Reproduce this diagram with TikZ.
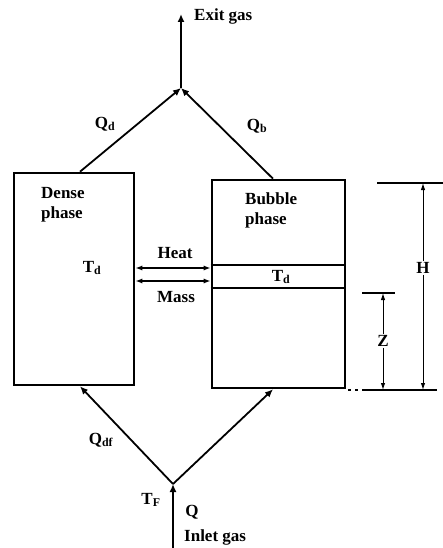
\documentclass[tikz,border=0pt]{standalone}
\usepackage{fontspec}
\setmainfont{Liberation Serif}
\usepackage{tikz}
\usetikzlibrary{arrows.meta,calc,positioning}
\tikzset{
  fase/.style={draw,line width=2.6pt,minimum width=120pt,inner sep=0pt},
  flujo/.style={line width=1.8pt,-{Latex[length=8pt,width=7pt]}},
  cambio/.style={line width=1.3pt,{Latex[length=7pt,width=5pt]}-{Latex[length=7pt,width=5pt]}},
  cota/.style={line width=1pt,-{Latex[length=7pt,width=4.5pt]}},
  etiq/.style={font=\bfseries\fontsize{17}{20}\selectfont,inner sep=1pt}
}
\begin{document}
\begin{tikzpicture}[x=1pt,y=-1pt]
\useasboundingbox (0,0) rectangle (443,548);
% the two phases
\node[fase,minimum width=120pt,minimum height=212pt] (dense) at (74,279) {};
\node[fase,minimum width=133pt,minimum height=208pt] (bubble) at (278.5,284) {};
\node[etiq,align=left,anchor=north west] (dtxt) at (40,186) {Dense\\phase};
\node[etiq,align=left,anchor=north west] (btxt) at (244,192) {Bubble\\phase};
% gas in and out
\coordinate (top) at (181,88);
\coordinate (exit) at (181,14);
\coordinate (bot) at (173,484);
\coordinate (inlet) at (173,548);
\draw[flujo] (dense.north -| 80,0) -- (top);
\draw[flujo] (bubble.north -| 273,0) -- (top);
\draw[flujo] (top) -- (exit);
\draw[flujo] (bot) -- (dense.south -| 80,0);
\draw[flujo] (bot) -- (bubble.south -| 273,0);
\draw[flujo] (inlet) -- (bot);
\node[etiq,anchor=west] (exitlbl) at (193,16) {Exit gas};
\node[etiq] (qd) at (105,124) {Q\textsubscript{d}};
\node[etiq] (qb) at (257,126) {Q\textsubscript{b}};
\node[etiq] (qdf) at (101,440) {Q\textsubscript{df}};
\node[etiq] (tf) at (151,500) {T\textsubscript{F}};
\node[etiq] (q) at (192,512) {Q};
\node[etiq,anchor=west] (inletlbl) at (183,537) {Inlet gas};
% exchange slice
\draw[line width=1.4pt] (bubble.west |- 0,265) -- (bubble.east |- 0,265);
\draw[line width=1.4pt] (bubble.west |- 0,288) -- (bubble.east |- 0,288);
\draw[cambio] (dense.east |- 0,268) -- (bubble.west |- 0,268);
\draw[cambio] (dense.east |- 0,281) -- (bubble.west |- 0,281);
\node[etiq] (heat) at (175,253) {Heat};
\node[etiq] (mass) at (176,297) {Mass};
\node[etiq] (td) at (92,268) {T\textsubscript{d}};
\node[etiq] (tb) at (281,277) {T\textsubscript{d}};
% heights
\draw[line width=1.2pt] (377,183) -- (443,183);
\draw[line width=1.2pt,dash pattern=on 3pt off 4pt] (348,390) -- (362,390);
\draw[line width=1.2pt] (362,390) -- (437,390);
\draw[line width=1.2pt] (362,293) -- (395,293);
\node[etiq] (hh) at (423,268) {H};
\node[etiq] (zz) at (383,341) {Z};
\draw[cota] (hh) -- (423,183);
\draw[cota] (hh) -- (423,390);
\draw[cota] (zz) -- (383,293);
\draw[cota] (zz) -- (383,390);
\end{tikzpicture}
\end{document}
